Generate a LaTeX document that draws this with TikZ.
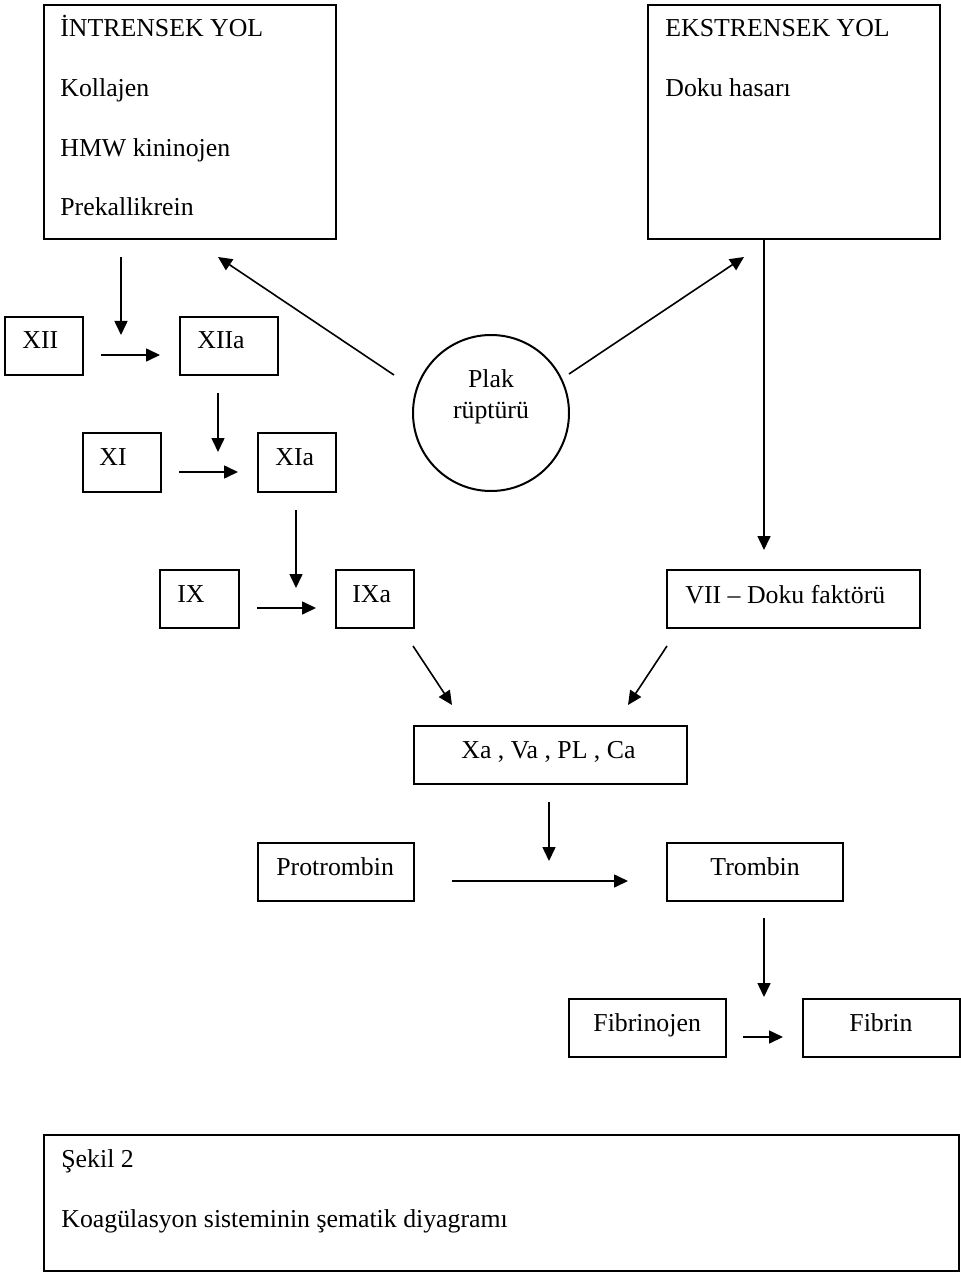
\documentclass[tikz,border=0pt]{standalone}
\usepackage{fontspec}
\setmainfont{Liberation Serif}
\usetikzlibrary{arrows.meta}
\newcommand\diafont{\fontsize{12.9pt}{15.5pt}\selectfont}
\tikzset{
  box/.style={draw, line width=1pt, rectangle, inner sep=0pt, anchor=north west},
  lbl/.style={anchor=base west, inner sep=0pt, font=\diafont},
  clbl/.style={anchor=base, inner sep=0pt, font=\diafont},
  arr/.style={-{Triangle[length=7pt,width=6.5pt]}, line width=0.8pt},
}
\begin{document}
\begin{tikzpicture}[x=0.5pt, y=-0.5pt]
\useasboundingbox (0,0) rectangle (960,1272);

% boxes
\node[box, minimum width=146pt, minimum height=117pt] (intr) at (43,4) {};
\node[box, minimum width=146pt, minimum height=117pt] (extr) at (647,4) {};
\node[box, minimum width=39pt, minimum height=29pt] (xii) at (4,316) {};
\node[box, minimum width=49pt, minimum height=29pt] (xiia) at (179,316) {};
\node[box, minimum width=39pt, minimum height=29.5pt] (xi) at (82,432) {};
\node[box, minimum width=39pt, minimum height=29.5pt] (xia) at (257,432) {};
\node[draw, line width=1pt, circle, minimum size=78pt, inner sep=0pt] (plak) at (491,413) {};
\node[box, minimum width=39.5pt, minimum height=29pt] (ix) at (159,569) {};
\node[box, minimum width=39pt, minimum height=29pt] (ixa) at (335,569) {};
\node[box, minimum width=126.5pt, minimum height=29pt] (vii) at (666,569) {};
\node[box, minimum width=136.5pt, minimum height=29pt] (xa) at (413,725) {};
\node[box, minimum width=78pt, minimum height=29pt] (prot) at (257,842) {};
\node[box, minimum width=88pt, minimum height=29pt] (trom) at (666,842) {};
\node[box, minimum width=78.5pt, minimum height=29pt] (fibj) at (568,998) {};
\node[box, minimum width=78.5pt, minimum height=29pt] (fib) at (802,998) {};
\node[box, minimum width=457.5pt, minimum height=68pt] (cap) at (43,1134) {};

% texts
\node[lbl] (t1) at (60,37) {İNTRENSEK YOL};
\node[lbl] (t2) at (60,97) {Kollajen};
\node[lbl] (t3) at (60,157) {HMW kininojen};
\node[lbl] (t4) at (60,216) {Prekallikrein};
\node[lbl] (t5) at (665,37) {EKSTRENSEK YOL};
\node[lbl] (t6) at (665,97) {Doku hasarı};
\node[lbl] (t7) at (22,349) {XII};
\node[lbl] (t8) at (197,349) {XIIa};
\node[lbl] (t9) at (99,465) {XI};
\node[lbl] (t10) at (275,465) {XIa};
\node[clbl] (t11) at (491,388) {Plak};
\node[clbl] (t12) at (491,419) {rüptürü};
\node[lbl] (t13) at (177,602) {IX};
\node[lbl] (t14) at (352,602) {IXa};
\node[lbl] (t15) at (685,603) {VII – Doku faktörü};
\node[lbl] (t16) at (461,758) {Xa , Va , PL , Ca};
\node[lbl] (t17) at (276,875) {Protrombin};
\node[lbl] (t18) at (710,875) {Trombin};
\node[lbl] (t19) at (593,1031) {Fibrinojen};
\node[lbl] (t20) at (849,1031) {Fibrin};
\node[lbl] (t21) at (61,1167) {Şekil 2};
\node[lbl] (t22) at (61,1227) {Koagülasyon sisteminin şematik diyagramı};

% arrow end points
\coordinate (a1s) at (121,257);  \coordinate (a1e) at (121,335);
\coordinate (a2s) at (101,355);  \coordinate (a2e) at (160,355);
\coordinate (a3s) at (218,393);  \coordinate (a3e) at (218,452);
\coordinate (a4s) at (179,472);  \coordinate (a4e) at (238,472);
\coordinate (a5s) at (394,375);  \coordinate (a5e) at (218,257);
\coordinate (a6s) at (569,374);  \coordinate (a6e) at (744,257);
\coordinate (a7s) at (764,238);  \coordinate (a7e) at (764,550);
\coordinate (a8s) at (296,510);  \coordinate (a8e) at (296,588);
\coordinate (a9s) at (257,608);  \coordinate (a9e) at (316,608);
\coordinate (a10s) at (413,646); \coordinate (a10e) at (452,705);
\coordinate (a11s) at (667,646); \coordinate (a11e) at (628,705);
\coordinate (a12s) at (549,802); \coordinate (a12e) at (549,861);
\coordinate (a13s) at (452,881); \coordinate (a13e) at (628,881);
\coordinate (a14s) at (764,918); \coordinate (a14e) at (764,997);
\coordinate (a15s) at (743,1037); \coordinate (a15e) at (783,1037);

\foreach \i in {1,...,15} {
  \draw[arr] (a\i s) -- (a\i e);
}
\end{tikzpicture}
\end{document}
